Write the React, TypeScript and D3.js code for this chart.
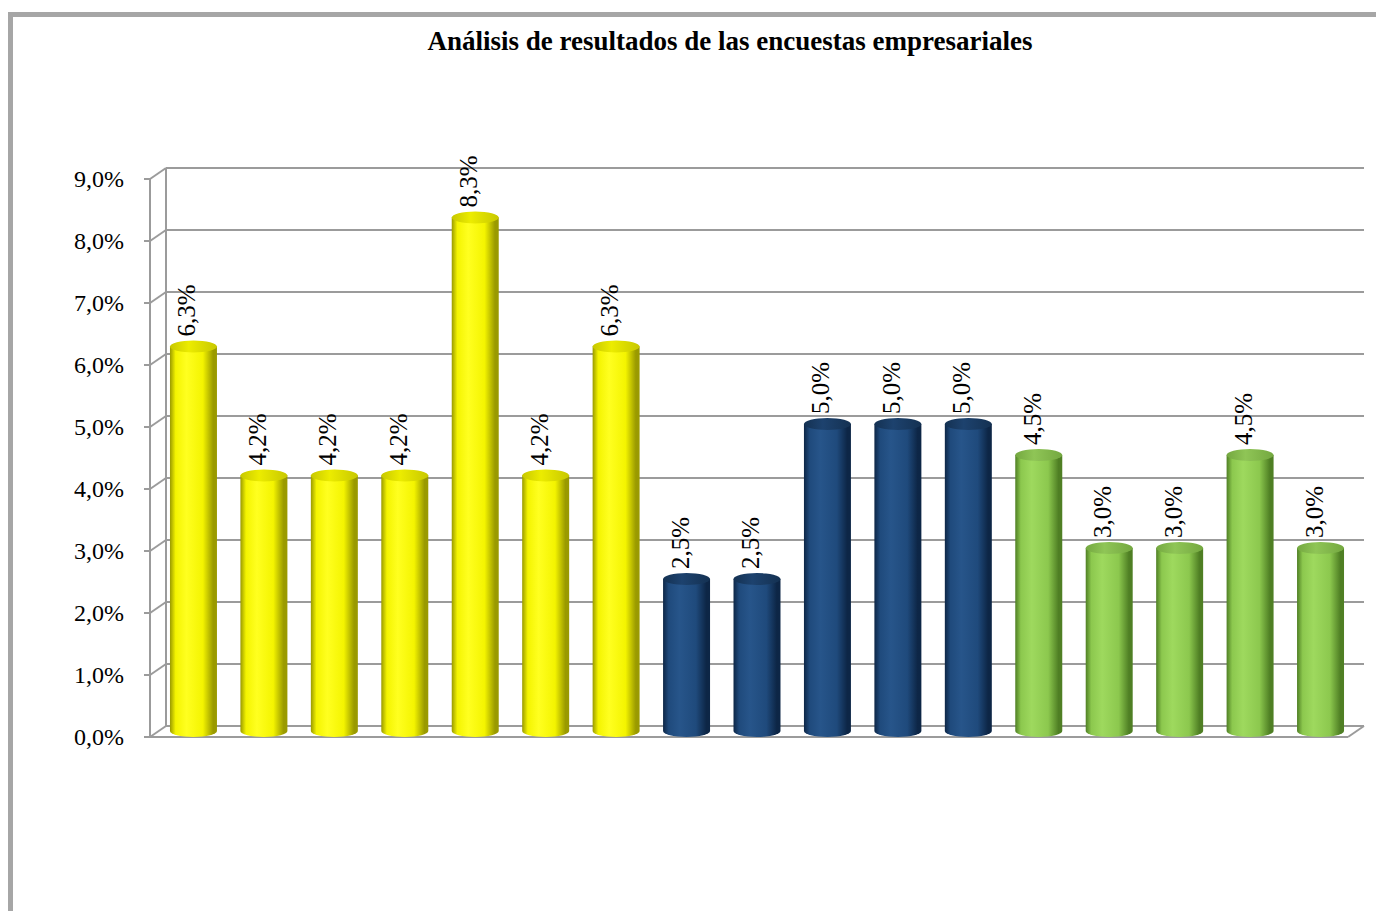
import React from "react";
import * as d3 from "d3";

const categories = ["1","2","3","4","5","6","7","8","9","10","11","12","13","14","15","16","17"];
const values = [6.25, 4.17, 4.17, 4.17, 8.33, 4.17, 6.25, 2.5, 2.5, 5.0, 5.0, 5.0, 4.5, 3.0, 3.0, 4.5, 3.0];
const groups = ["y","y","y","y","y","y","y","b","b","b","b","b","g","g","g","g","g"];
const yTicks = [0,1,2,3,4,5,6,7,8,9];
const title = "Análisis de resultados de las encuestas empresariales";

const palette: Record<string, {edge: string; mid: string; light: string; top: string; topEdge: string}> = {
  y: { edge: "#9a9a00", mid: "#f4f400", light: "#ffff20", top: "#ecec00", topEdge: "#c8c800" },
  b: { edge: "#0d2646", mid: "#1f4a7c", light: "#27558a", top: "#1d426e", topEdge: "#143152" },
  g: { edge: "#4f7f24", mid: "#8cc84e", light: "#9ed95e", top: "#8fc556", topEdge: "#74a840" },
};

const fmt = (v: number) => v.toFixed(1).replace(".", ",") + "%";
const SERIF = '"Liberation Serif", "Times New Roman", Tinos, "DejaVu Serif", serif';

export default function App() {
  const W = 1376, H = 911;
  const dx = 16, dy = -11;
  const yBack = d3.scaleLinear().domain([0, 9]).range([726, 168]);
  const yFront = (v: number) => yBack(v) - dy;
  const yBar = d3.scaleLinear().domain([0, 9]).range([734, 176]);
  const baseY = 731;
  const x = d3.scaleBand<string>().domain(categories).range([158, 1356]).paddingInner(0.333).paddingOuter(0.17);
  const bw = x.bandwidth();
  const ry = 6;
  const frontLeft = 150, backLeft = frontLeft + dx, backRight = 1364, frontRight = backRight - dx;
  const grid = "#9b9b9b";

  return (
    <svg width={W} height={H} style={{ position: "absolute", left: 0, top: 0, background: "#fff", fontFamily: SERIF }}>
      <defs>
        {Object.entries(palette).map(([k, p]) => (
          <React.Fragment key={k}>
            <linearGradient id={`body-${k}`} x1="0" x2="1" y1="0" y2="0">
              <stop offset="0" stopColor={p.edge} />
              <stop offset="0.12" stopColor={p.mid} />
              <stop offset="0.35" stopColor={p.light} />
              <stop offset="0.7" stopColor={p.mid} />
              <stop offset="0.92" stopColor={p.edge} />
              <stop offset="1" stopColor={p.edge} />
            </linearGradient>
            <linearGradient id={`top-${k}`} x1="0" x2="1" y1="0" y2="0">
              <stop offset="0" stopColor={p.topEdge} />
              <stop offset="0.4" stopColor={p.top} />
              <stop offset="1" stopColor={p.topEdge} />
            </linearGradient>
          </React.Fragment>
        ))}
      </defs>
      <rect x={10.5} y={14.5} width={1500} height={1000} fill="none" stroke="#a6a6a6" strokeWidth={5} />
      <text x={730} y={50} textAnchor="middle" fontWeight="bold" fontSize={27} fill="#000" style={{ fontFamily: SERIF }}>{title}</text>

      {yTicks.map(t => (
        <g key={t}>
          <line x1={backLeft} x2={backRight} y1={yBack(t)} y2={yBack(t)} stroke={grid} strokeWidth={2} />
          <line x1={frontLeft} x2={backLeft} y1={yFront(t)} y2={yBack(t)} stroke={grid} strokeWidth={2} />
          <line x1={frontLeft - 6} x2={frontLeft} y1={yFront(t)} y2={yFront(t)} stroke={grid} strokeWidth={2} />
          <text x={124} y={yFront(t)} dy="0.35em" textAnchor="end" fontSize={24} fill="#000" style={{ fontFamily: SERIF }}>{fmt(t)}</text>
        </g>
      ))}
      <line x1={backLeft} x2={backLeft} y1={yBack(9)} y2={yBack(0)} stroke={grid} strokeWidth={2} />
      <line x1={frontLeft} x2={frontLeft} y1={yFront(9)} y2={yFront(0)} stroke={grid} strokeWidth={2} />
      <line x1={frontLeft} x2={frontRight} y1={yFront(0)} y2={yFront(0)} stroke={grid} strokeWidth={2} />
      <line x1={frontRight} x2={backRight} y1={yFront(0)} y2={yBack(0)} stroke={grid} strokeWidth={2} />

      {values.map((v, i) => {
        const c = categories[i];
        const x0 = x(c)!;
        const cx = x0 + bw / 2;
        const rx = bw / 2;
        const top = yBar(v);
        const k = groups[i];
        const bodyPath = `M${x0},${top} L${x0},${baseY} A${rx},${ry} 0 0 0 ${x0 + bw},${baseY} L${x0 + bw},${top} Z`;
        return (
          <g key={c}>
            <path d={bodyPath} fill={`url(#body-${k})`} />
            <ellipse cx={cx} cy={top} rx={rx} ry={ry} fill={`url(#top-${k})`} />
            <text transform={`translate(${cx + 2},${top - 10}) rotate(-90)`} fontSize={25} fill="#000" style={{ fontFamily: SERIF }}>{fmt(v)}</text>
          </g>
        );
      })}
    </svg>
  );
}
